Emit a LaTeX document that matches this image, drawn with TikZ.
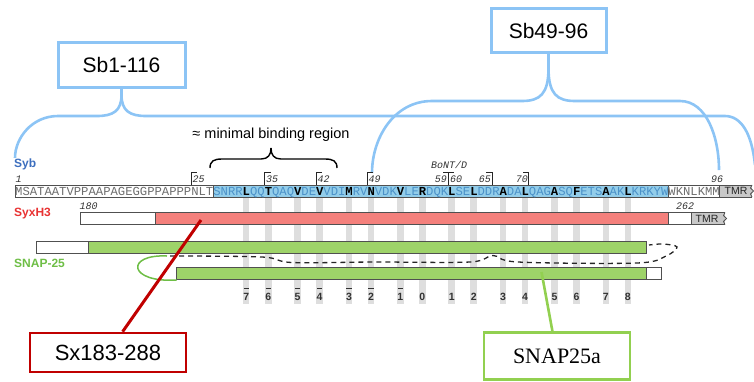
\documentclass[tikz,border=0pt]{standalone}
\usepackage{fontspec}
\setmainfont{Liberation Sans}
\setmonofont{Liberation Mono}
\newfontfamily\serifbox{Liberation Serif}
\definecolor{sbblue}{RGB}{140,196,245}
\definecolor{seqblue}{RGB}{146,205,234}
\definecolor{seqbtxt}{RGB}{75,145,200}
\definecolor{seqgtxt}{RGB}{110,110,110}
\definecolor{sybtxt}{RGB}{60,110,190}
\definecolor{syxtxt}{RGB}{232,50,50}
\definecolor{redfill}{RGB}{244,128,124}
\definecolor{snaptxt}{RGB}{110,190,70}
\definecolor{greenfill}{RGB}{158,211,105}
\definecolor{darkred}{RGB}{192,0,0}
\definecolor{boxgreen}{RGB}{146,208,80}
\definecolor{stripe}{RGB}{222,222,222}
\definecolor{tmrgray}{RGB}{200,200,200}
\definecolor{edge}{RGB}{80,80,80}
\newcommand{\lay}[1]{{\bfseries\color{black}#1}}
\begin{document}
\begin{tikzpicture}[x=1pt,y=-1pt,
  sbbox/.style={draw=sbblue, line width=3pt, fill=white, inner sep=0pt, font=\fontsize{21}{24}\selectfont},
  braceline/.style={draw=sbblue, line width=2.6pt},
  seqtxt/.style={inner sep=0pt, anchor=base west, font=\ttfamily\fontsize{12.23}{12}\selectfont},
  numtxt/.style={inner sep=0pt, font=\ttfamily\itshape\fontsize{10}{10}\selectfont, text=black!80},
  barline/.style={draw=edge, line width=0.8pt},
  lbl/.style={inner sep=0pt, anchor=west, font=\bfseries\fontsize{12}{12}\selectfont},
  laynum/.style={inner sep=0pt, font=\bfseries\fontsize{10.5}{10}\selectfont, text=black!80},
  tmrtxt/.style={inner sep=0pt, font=\fontsize{10.5}{10}\selectfont, text=black!85},
  dashline/.style={draw=black!85, line width=1.3pt, dash pattern=on 5pt off 4pt}
]
\useasboundingbox (0,0) rectangle (754,381);

% ---------- layer stripes ----------
\foreach \r/\n/\s in {32/7/1,35/6/1,39/5/1,42/4/1,46/3/1,49/2/1,53/1/1,56/0/0,60/1/0,63/2/0,67/3/0,70/4/0,74/5/0,77/6/0,81/7/0,84/8/0}{
  \fill[stripe] ({15+(\r-1)*7.34+0.4},197) rectangle ({15+\r*7.34-0.4},304);
  \node[laynum] (ln\r) at ({15+(\r-0.5)*7.34},297) {\n};
  \ifnum\s=1 \draw[black!80, line width=0.8pt] ({15+(\r-0.5)*7.34-2.6},288.3) -- ({15+(\r-0.5)*7.34+2.6},288.3);\fi
}

% ---------- blue braces ----------
\node[sbbox, minimum width=127pt, minimum height=45pt] (sb1) at (121.5,64.5) {Sb1-116};
\node[sbbox, minimum width=115pt, minimum height=44pt] (sb49) at (548.5,30.5) {Sb49-96};
\coordinate (t1) at (121.5,95);
\coordinate (t49) at (548.5,68);
\draw[braceline] (sb1.south) -- (t1);
\draw[braceline] (t1) .. controls (121.5,111) and (113,116) .. (97,116) -- (58,116) .. controls (32,116) and (15,138) .. (15,158);
\draw[braceline] (t1) .. controls (121.5,111) and (130,116) .. (146,116) -- (725,116) .. controls (742,116) and (752,135) .. (755,165);
\draw[braceline] (sb49.south) -- (t49);
\draw[braceline] (t49) .. controls (548.5,94) and (540,101) .. (522,101) -- (432,101) .. controls (394,101) and (372,138) .. (372,173);
\draw[braceline] (t49) .. controls (548.5,94) and (557,101) .. (575,101) -- (680,101) .. controls (707,101) and (719,138) .. (719,170);

% ---------- minimal binding region ----------
\node[inner sep=0pt, font=\fontsize{14.5}{15}\selectfont] (mbr) at (271,135) {≈ minimal binding region};
\draw[black, line width=1.4pt] (210,168) .. controls (210,161) and (214,159) .. (222,159) -- (261,159) .. controls (268,159) and (271,155) .. (271,148);
\draw[black, line width=1.4pt] (271,148) .. controls (271,155) and (274,159) .. (281,159) -- (325,159) .. controls (333,159) and (337,161) .. (337,168);

% ---------- labels ----------
\node[lbl, text=sybtxt] (lsyb) at (14,164) {Syb};
\node[lbl, text=syxtxt] (lsyx) at (14,214) {SyxH3};
\node[lbl, text=snaptxt] (lsnap) at (14,263) {SNAP-25};

% ---------- synaptobrevin sequence ----------
\fill[white] (15,185) rectangle (213.18,197);
\fill[seqblue] (213.18,185) rectangle (668.26,197);
\fill[white] (668.26,185) rectangle (719.64,197);
\draw[barline] (15,185) rectangle (719.64,197);
\draw[barline] (213.18,185) -- (213.18,197);
\draw[barline] (668.26,185) -- (668.26,197);
\fill[tmrgray] (719.64,185) rectangle (752,197);
\draw[barline] (752,185) -- (719.64,185) -- (719.64,197) -- (752,197);
\draw[barline] (752,185) -- (750.5,188) -- (753.5,191) -- (750.5,194) -- (752,197);
\node[tmrtxt] (tmr1) at (736,191.3) {TMR};
\node[seqtxt, text=seqgtxt] (seq1) at (15,195) {MSATAATVPPAAPAGEGGPPAPPPNLT};
\node[seqtxt, text=seqbtxt] (seq2) at (213.18,195) {SNRR\lay{L}QQ\lay{T}QAQ\lay{V}DE\lay{V}VDI\lay{M}RV\lay{N}VDK\lay{V}LE\lay{R}DQK\lay{L}SE\lay{L}DDR\lay{A}DA\lay{L}QAG\lay{A}SQ\lay{F}ETS\lay{A}AK\lay{L}KRKYW};
\node[seqtxt, text=seqgtxt] (seq3) at (668.26,195) {WKNLKMM};

% residue numbers and brackets
\node[numtxt] (r1) at (18.7,179) {1};
\node[numtxt, anchor=west] (r25) at (192.5,179.5) {25};
\node[numtxt, anchor=west] (r35) at (266,179.5) {35};
\node[numtxt, anchor=west] (r42) at (317.5,179.5) {42};
\node[numtxt, anchor=west] (r49) at (368.5,179.5) {49};
\node[numtxt, anchor=east] (r59) at (447,179.5) {59};
\node[numtxt, anchor=west] (r60) at (450,179.5) {60};
\node[numtxt, anchor=east] (r65) at (491,179.5) {65};
\node[numtxt, anchor=east] (r70) at (528,179.5) {70};
\node[numtxt] (r96) at (717,179.5) {96};
\node[numtxt] (bont) at (449,165) {BoNT/D};
\foreach \xx in {191.24,264.64,316.02,367.4}{
  \draw[black!85, line width=0.8pt] (\xx,185) -- (\xx,172) -- (\xx+6,172);
}
\foreach \xx in {492.1,528.8}{
  \draw[black!85, line width=0.8pt] (\xx,185) -- (\xx,172) -- (\xx-6,172);
}
\draw[black!85, line width=0.8pt] (448.06,185) -- (448.06,172);
\draw[black!85, line width=0.8pt] (443,172) -- (454,172);

% ---------- syntaxin H3 ----------
\node[numtxt] (r180) at (88.5,206) {180};
\node[numtxt] (r262) at (685,206) {262};
\draw[barline, fill=white] (80,212.5) rectangle (155,224.5);
\draw[barline, fill=redfill] (155,212.5) rectangle (668,224.5);
\draw[barline, fill=white] (668,212.5) rectangle (691,224.5);
\fill[tmrgray] (691,212.5) rectangle (725,224.5);
\draw[barline] (725,212.5) -- (691,212.5) -- (691,224.5) -- (725,224.5);
\draw[barline] (725,212.5) -- (723.5,215.5) -- (726.5,218.5) -- (723.5,221.5) -- (725,224.5);
\node[tmrtxt] (tmr2) at (707,218.8) {TMR};

% ---------- SNAP-25 ----------
\draw[barline, fill=white] (36.7,241) rectangle (88.3,253);
\draw[barline, fill=greenfill] (88.3,241) rectangle (646.7,253);
\draw[barline, fill=greenfill] (176.7,267) rectangle (646.7,279.5);
\draw[barline, fill=white] (646.7,267) rectangle (661,279.5);
\draw[dashline] plot[smooth, tension=0.55] coordinates {(170,256) (262,257) (292,262.5) (375,262) (470,262) (493,255.5) (518,262) (637,263) (666,256) (677,247) (663,244) (649,245)};
\draw[snaptxt, line width=1.5pt] (167,256) .. controls (125,254) and (128,283) .. (176.7,280);

% ---------- construct boxes ----------
\node[draw=darkred, line width=2.6pt, fill=white, minimum width=156pt, minimum height=39pt, inner sep=0pt, font=\fontsize{22}{24}\selectfont] (sx) at (108,352.5) {Sx183-288};
\node[draw=boxgreen, line width=2.6pt, fill=white, minimum width=146pt, minimum height=47pt, inner sep=0pt, font=\serifbox\fontsize{22}{24}\selectfont] (snapa) at (557,356) {SNAP25a};
\coordinate (sxend) at (201,220);
\coordinate (snend) at (541.5,272);
\draw[darkred, line width=3pt] (sxend) -- (sx);
\draw[boxgreen, line width=2.6pt] (snend) -- (snapa);
\end{tikzpicture}
\end{document}
